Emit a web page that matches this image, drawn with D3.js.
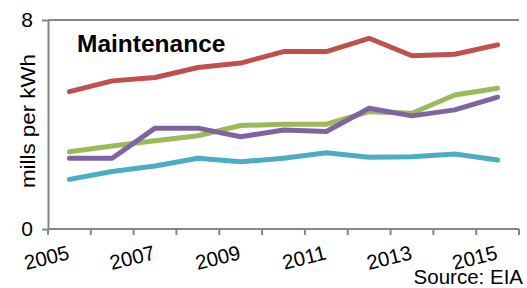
<!DOCTYPE html>
<html>
<head>
<meta charset="utf-8">
<script src="https://cdn.jsdelivr.net/npm/d3@7"></script>
<style>
  html, body { margin: 0; padding: 0; background: #fff; }
  svg { display: block; }
</style>
</head>
<body>
<div id="chart"></div>
<script>
const years = [2005, 2006, 2007, 2008, 2009, 2010, 2011, 2012, 2013, 2014, 2015];
const labelYears = [2005, 2007, 2009, 2011, 2013, 2015];
const yTicks = [0, 8];

const redValues = [5.26, 5.67, 5.80, 6.18, 6.35, 6.79, 6.79, 7.30, 6.63, 6.69, 7.05];
const greenValues = [2.96, 3.18, 3.38, 3.57, 3.96, 4.01, 4.01, 4.49, 4.43, 5.13, 5.39];
const purpleValues = [2.71, 2.71, 3.86, 3.86, 3.53, 3.79, 3.73, 4.62, 4.33, 4.56, 5.05];
const blueValues = [1.90, 2.20, 2.41, 2.71, 2.57, 2.71, 2.92, 2.75, 2.77, 2.87, 2.64];

const width = 527;
const height = 288;
const axisColor = "#868686";
const font = "'Liberation Sans', Arial, sans-serif";

const series = [
  { values: redValues, color: "#C0504D" },
  { values: greenValues, color: "#9BBB59" },
  { values: purpleValues, color: "#8064A2" },
  { values: blueValues, color: "#4BACC6" },
];

const plotLeft = 48, plotRight = 519, plotTop = 20, plotBottom = 229;

const svg = d3.select("#chart")
  .append("svg")
  .attr("width", width)
  .attr("height", height)
  .style("font-family", font);

const x = d3.scaleBand().domain(years).range([plotLeft, plotRight]).paddingInner(0).paddingOuter(0);
const y = d3.scaleLinear().domain([0, 8]).range([plotBottom, plotTop]);
const cx = yr => x(yr) + x.bandwidth() / 2;

// top border of plot area
svg.append("line")
  .attr("x1", plotLeft).attr("x2", plotRight)
  .attr("y1", plotTop).attr("y2", plotTop)
  .attr("stroke", axisColor).attr("stroke-width", 2);

// y axis
const yAxis = svg.append("g")
  .attr("transform", `translate(${plotLeft},0)`)
  .call(d3.axisLeft(y).tickValues(yTicks).tickSize(6).tickPadding(9).tickSizeOuter(0));
yAxis.select(".domain").attr("stroke", axisColor).attr("stroke-width", 2);
yAxis.selectAll(".tick line").attr("stroke", axisColor).attr("stroke-width", 2);
yAxis.selectAll(".tick text")
  .attr("font-family", font)
  .attr("font-size", "21px")
  .attr("fill", "#000");

// x axis (category boundaries as ticks)
svg.append("line")
  .attr("x1", plotLeft).attr("x2", plotRight)
  .attr("y1", plotBottom).attr("y2", plotBottom)
  .attr("stroke", axisColor).attr("stroke-width", 2);

const boundaries = years.map(yr => x(yr)).concat([plotRight]);
svg.append("g").selectAll("line")
  .data(boundaries)
  .join("line")
  .attr("x1", d => d).attr("x2", d => d)
  .attr("y1", plotBottom).attr("y2", plotBottom + 6)
  .attr("stroke", axisColor).attr("stroke-width", 2);

svg.append("g").selectAll("text")
  .data(labelYears)
  .join("text")
  .attr("transform", d => `translate(${cx(d) + 1},259) rotate(-14)`)
  .attr("text-anchor", "end")
  .attr("font-size", "20.5px")
  .attr("fill", "#000")
  .text(d => d);

// y axis title
svg.append("text")
  .attr("transform", "translate(35,121) rotate(-90)")
  .attr("text-anchor", "middle")
  .attr("font-size", "20px")
  .attr("textLength", 134)
  .attr("lengthAdjust", "spacingAndGlyphs")
  .attr("fill", "#000")
  .text("mills per kWh");

// lines
const line = d3.line()
  .x((d, i) => cx(years[i]))
  .y(d => y(d));

svg.append("g").selectAll("path")
  .data(series)
  .join("path")
  .attr("d", d => line(d.values))
  .attr("fill", "none")
  .attr("stroke", d => d.color)
  .attr("stroke-width", 5)
  .attr("stroke-linejoin", "round")
  .attr("stroke-linecap", "round");

// title
svg.append("text")
  .attr("x", 77)
  .attr("y", 52)
  .attr("font-size", "24.5px")
  .attr("font-weight", "bold")
  .attr("fill", "#000")
  .text("Maintenance");

// source
svg.append("text")
  .attr("x", 523)
  .attr("y", 284)
  .attr("text-anchor", "end")
  .attr("font-size", "20.5px")
  .attr("fill", "#000")
  .text("Source: EIA");
</script>
</body>
</html>
